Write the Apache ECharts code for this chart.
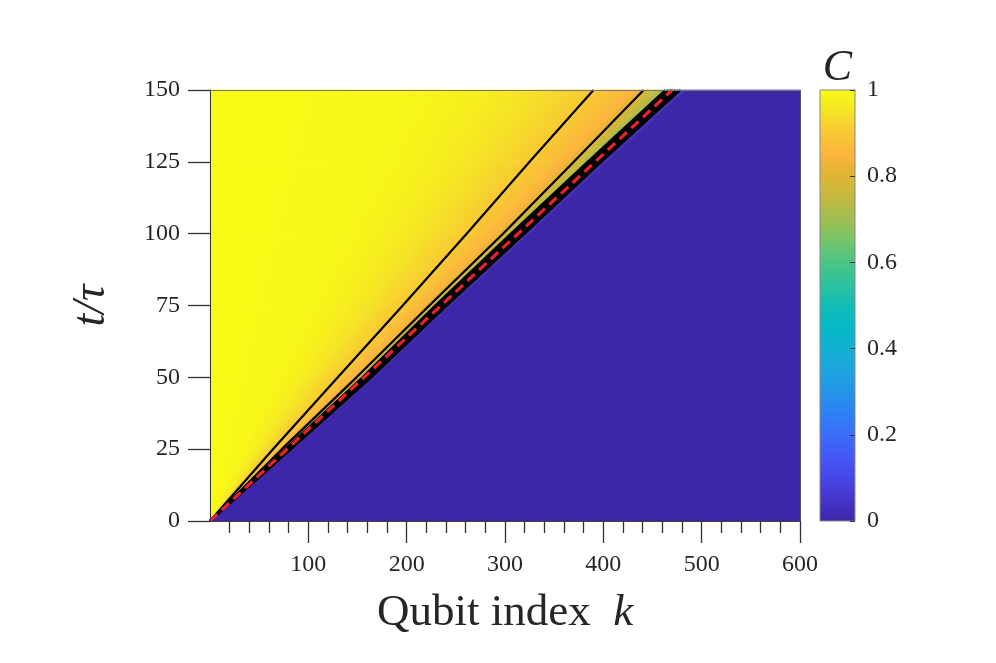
<!DOCTYPE html>
<html>
<head>
<meta charset="utf-8">
<title>Qubit index vs t/tau</title>
<script src="https://cdn.jsdelivr.net/npm/echarts@6/dist/echarts.min.js"></script>
<style>
  html, body { margin: 0; padding: 0; background: #fff; }
  #chart { width: 996px; height: 663px; }
</style>
</head>
<body>
<div id="chart"></div>
<script>
const tSamples = [0, 25, 50, 75, 100, 125, 150]

// value of C on each iso-line, and the qubit index k where it sits at each time row
const isoLevels = [1.0, 0.99, 0.97, 0.95, 0.92, 0.9, 0.87, 0.85, 0.8, 0.75, 0.7, 0.6, 0.5, 0.4, 0.3, 0.2, 0.1, 0.05, 0.0]
const isoK = [
  [0, 0, 0, 0, 0, 0, 0],
  [0, 35, 70, 105, 142, 180, 218],
  [0, 46, 92, 139, 186, 234, 282],
  [0, 53, 107, 161, 216, 270, 326],
  [0, 59, 121, 182, 244, 305, 366],
  [0, 64, 130, 196, 261, 325, 390],
  [0, 69, 139, 209, 280, 350, 418],
  [0, 71, 144, 216, 289, 360, 431],
  [0, 73, 149, 223, 298, 370, 441],
  [0, 75, 152.5, 227, 303, 378, 453],
  [0, 76.5, 155, 229, 306, 384, 463],
  [0, 77.5, 156.5, 231, 308.5, 386.5, 466],
  [0, 78.5, 158, 233, 311, 389, 468.5],
  [0, 79.5, 159.5, 235, 313.5, 391.5, 471],
  [0, 80.5, 161, 237, 316, 394, 473.5],
  [0, 81.5, 162.5, 239, 318, 396, 476],
  [0, 82.5, 164, 241, 320, 398, 478.5],
  [0, 83.5, 165.5, 242.5, 322, 400, 481],
  [0, 85, 167, 244, 324, 403, 484]
]

// levels drawn as black contour lines
const contourLevels = [0.9, 0.8, 0.7, 0.6, 0.5, 0.4, 0.3, 0.2, 0.1]

// red dashed light-cone line (k, t)
const coneLine = [[0, 0], [470, 150]]

const kMax = 600
const tMax = 150
const xTickValues = [100, 200, 300, 400, 500, 600]

// parula colormap, evenly spaced from C = 0 to C = 1
const parula = [
  '#3e26a8', '#4535ca', '#4746e6', '#4458f6', '#3b6cfb', '#2d81f5', '#2594e8',
  '#1ea4dd', '#12b1d3', '#05b9c6', '#12bdb6', '#2dc19f', '#4bc485', '#75c46a',
  '#a0be52', '#c4b940', '#dfb532', '#fcb43c', '#f8c934', '#f5e326', '#f9fb15'
]

const FONT = '"Liberation Serif", "DejaVu Serif", serif'
const INK = '#262626'

const bandData = isoK.map((_, i) => {
  const c = i + 1 < isoLevels.length ? (isoLevels[i] + isoLevels[i + 1]) / 2 : 0
  return [c, i]
})

const contourSeries = contourLevels.map((lv) => {
  const idx = isoLevels.indexOf(lv)
  return {
    name: 'C = ' + lv,
    type: 'line',
    xAxisIndex: 0,
    yAxisIndex: 0,
    data: tSamples.map((t, j) => [isoK[idx][j], t]),
    showSymbol: false,
    silent: true,
    z: 3,
    lineStyle: { color: '#000', width: 2.2 }
  }
})

// one band between two neighbouring iso-lines, split per time row,
// each piece shaded across the band from one level's colour to the next
function renderBand(params, api) {
  const i = api.value(1)
  const left = isoK[i]
  const last = i + 1 >= isoK.length
  const right = last ? tSamples.map(() => kMax) : isoK[i + 1]
  const colA = echarts.color.lerp(isoLevels[i], parula)
  const colB = echarts.color.lerp(last ? 0 : isoLevels[i + 1], parula)

  if (colA === colB) {
    const pts = tSamples.map((t, j) => api.coord([left[j], t]))
    for (let j = tSamples.length - 1; j >= 0; j -= 1) pts.push(api.coord([right[j], tSamples[j]]))
    return { type: 'polygon', shape: { points: pts }, style: { fill: colA, stroke: colA, lineWidth: 0.7 } }
  }

  const children = []
  for (let j = 0; j < tSamples.length - 1; j += 1) {
    const L0 = api.coord([left[j], tSamples[j]])
    const L1 = api.coord([left[j + 1], tSamples[j + 1]])
    const R0 = api.coord([right[j], tSamples[j]])
    const R1 = api.coord([right[j + 1], tSamples[j + 1]])
    let dx = (L1[0] - L0[0]) + (R1[0] - R0[0])
    let dy = (L1[1] - L0[1]) + (R1[1] - R0[1])
    const dl = Math.hypot(dx, dy) || 1
    dx /= dl; dy /= dl
    const Lm = [(L0[0] + L1[0]) / 2, (L0[1] + L1[1]) / 2]
    const Rm = [(R0[0] + R1[0]) / 2, (R0[1] + R1[1]) / 2]
    let nx = -dy, ny = dx
    let dist = (Rm[0] - Lm[0]) * nx + (Rm[1] - Lm[1]) * ny
    if (dist < 0) { nx = -nx; ny = -ny; dist = -dist }
    const fill = dist > 0.05
      ? new echarts.graphic.LinearGradient(Lm[0], Lm[1], Lm[0] + nx * dist, Lm[1] + ny * dist,
          [{ offset: 0, color: colA }, { offset: 1, color: colB }], true)
      : colA
    children.push({
      type: 'polygon',
      shape: { points: [L0, L1, R1, R0] },
      style: { fill: fill, stroke: fill, lineWidth: 0.7 }
    })
  }
  return { type: 'group', children }
}

const chart = echarts.init(document.getElementById('chart'))
chart.setOption({
  animation: false,
  backgroundColor: '#fff',
  textStyle: { fontFamily: FONT, color: INK },
  grid: [
    { left: 210, top: 90, width: 590, height: 431 },
    { left: 820, top: 90, width: 35, height: 431 }
  ],
  xAxis: [
    {
      gridIndex: 0,
      type: 'value',
      min: 0,
      max: kMax,
      interval: 100,
      position: 'bottom',
      z: 5,
      axisLine: { show: true, onZero: false, lineStyle: { color: '#444', width: 1 } },
      axisTick: { show: true, length: 22, customValues: xTickValues, lineStyle: { color: '#333', width: 1.3 } },
      minorTick: { show: true, splitNumber: 5, length: 12, lineStyle: { color: '#333', width: 1.3 } },
      axisLabel: { customValues: xTickValues, margin: 32, fontFamily: FONT, fontSize: 24, color: INK },
      splitLine: { show: false },
      name: '{n|Qubit index}  {i|k}',
      nameLocation: 'middle',
      nameGap: 70,
      nameTextStyle: {
        fontFamily: FONT, fontSize: 45, color: INK,
        rich: {
          n: { fontFamily: FONT, fontSize: 45, color: INK },
          i: { fontFamily: FONT, fontSize: 45, fontStyle: 'italic', color: INK }
        }
      }
    },
    {
      gridIndex: 0,
      type: 'value',
      min: 0,
      max: kMax,
      position: 'top',
      z: 5,
      axisLine: { show: true, onZero: false, lineStyle: { color: '#777', width: 1 } },
      axisTick: { show: false },
      axisLabel: { show: false },
      splitLine: { show: false }
    },
    {
      gridIndex: 1,
      type: 'value',
      min: 0,
      max: 1,
      position: 'top',
      axisLine: { show: false, onZero: false },
      axisTick: { show: false },
      axisLabel: { show: false },
      splitLine: { show: false },
      name: 'C',
      nameLocation: 'middle',
      nameGap: 0,
      nameTextStyle: { fontFamily: FONT, fontSize: 44, fontStyle: 'italic', color: INK }
    }
  ],
  yAxis: [
    {
      gridIndex: 0,
      type: 'value',
      min: 0,
      max: tMax,
      interval: 25,
      z: 5,
      axisLine: { show: true, onZero: false, lineStyle: { color: '#333', width: 1 } },
      axisTick: { show: true, length: 22, lineStyle: { color: '#333', width: 1.3 } },
      axisLabel: { margin: 30, fontFamily: FONT, fontSize: 24, color: INK },
      splitLine: { show: false },
      name: 't/τ',
      nameLocation: 'middle',
      nameRotate: 90,
      nameGap: 95,
      nameTextStyle: { fontFamily: FONT, fontSize: 46, fontStyle: 'italic', color: INK }
    },
    {
      gridIndex: 0,
      type: 'value',
      min: 0,
      max: tMax,
      position: 'right',
      z: 5,
      axisLine: { show: true, onZero: false, lineStyle: { color: '#555', width: 1 } },
      axisTick: { show: false },
      axisLabel: { show: false },
      splitLine: { show: false }
    },
    {
      gridIndex: 1,
      type: 'value',
      min: 0,
      max: 1,
      interval: 0.2,
      position: 'right',
      z: 5,
      axisLine: { show: false, onZero: false },
      axisTick: { show: true, inside: true, length: 5, lineStyle: { color: '#333', width: 1 } },
      axisLabel: { margin: 12, fontFamily: FONT, fontSize: 24, color: INK },
      splitLine: { show: false }
    }
  ],
  series: [
    {
      name: 'C field',
      type: 'custom',
      xAxisIndex: 0,
      yAxisIndex: 0,
      silent: true,
      z: 1,
      data: bandData,
      renderItem: renderBand
    },
    ...contourSeries,
    {
      name: 'light cone',
      type: 'line',
      xAxisIndex: 0,
      yAxisIndex: 0,
      data: coneLine,
      showSymbol: false,
      silent: true,
      z: 4,
      lineStyle: { color: '#e8232b', width: 3.2, type: [10, 6] }
    },
    {
      name: 'colorbar',
      type: 'custom',
      xAxisIndex: 2,
      yAxisIndex: 2,
      silent: true,
      z: 2,
      data: [[0, 0]],
      renderItem: (params, api) => {
        const p0 = api.coord([0, 0])
        const p1 = api.coord([1, 1])
        const stops = parula.map((c, i) => ({ offset: i / (parula.length - 1), color: c }))
        return {
          type: 'rect',
          shape: { x: p0[0], y: p1[1], width: p1[0] - p0[0], height: p0[1] - p1[1] },
          style: { fill: new echarts.graphic.LinearGradient(0, 1, 0, 0, stops), stroke: '#888', lineWidth: 1 }
        }
      }
    }
  ]
})
</script>
</body>
</html>
